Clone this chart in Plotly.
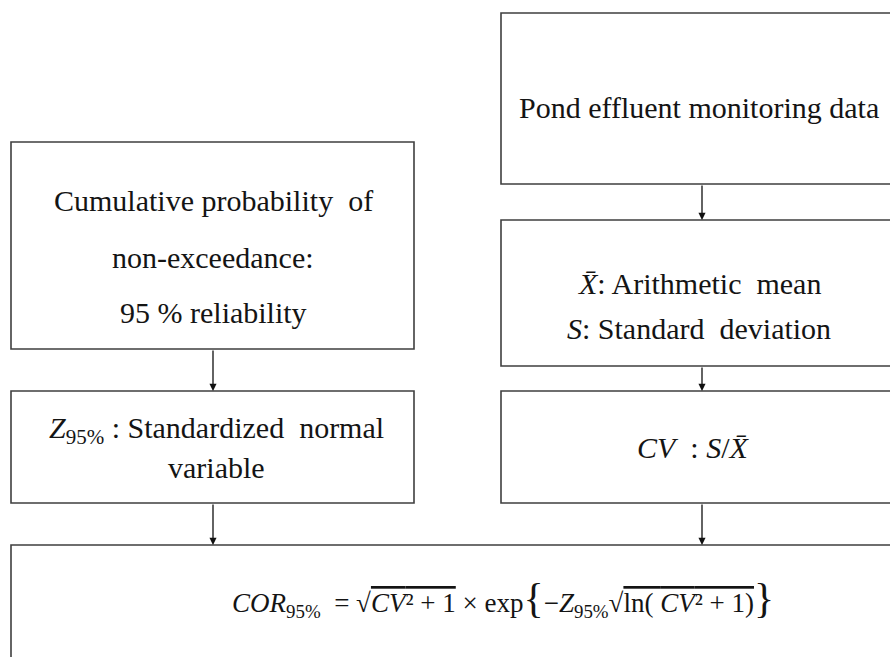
import plotly.graph_objects as go

# ---- content (node texts) ----
left_top_lines = ["Cumulative probability  of", "non-exceedance:", "95 % reliability"]
right_top_lines = ["Pond effluent monitoring data"]
right_mid_lines = ["<i>X̄</i>: Arithmetic  mean", "<i>S</i>: Standard  deviation"]
left_mid_lines = ["<i>Z</i><sub>95%</sub> : Standardized  normal", "variable"]
right_low_lines = ["<i>CV</i>  : <i>S</i>/<i>X̄</i>"]
formula_lines = [
    "<i>COR</i><sub>95%</sub>  = √<span style='text-decoration:overline'><i>CV</i>² + 1</span>"
    " × exp<span style='font-size:42px'>{</span>−<i>Z</i><sub>95%</sub>"
    "√<span style='text-decoration:overline'>ln( <i>CV</i>² + 1)</span>"
    "<span style='font-size:42px'>}</span>"
]

# ---- layout (coordinates in reference-picture pixels) ----
W, H = 890, 657
boxes = [
    # x0, y0, x1, y1, text-center-x, line y positions, lines, font size
    (11, 142, 414, 349, 213, [200, 257, 312], left_top_lines, 30),
    (501, 13, 905, 184, 699, [107], right_top_lines, 30),
    (501, 220, 905, 366, 699, [283, 328], right_mid_lines, 30),
    (11, 391, 414, 503, 216, [430, 467], left_mid_lines, 30),
    (501, 391, 905, 503, 693, [447], right_low_lines, 30),
    (11, 545, 905, 700, 503, [598], formula_lines, 27),
]
arrows = [
    (213, 349, 213, 391),
    (702, 184, 702, 220),
    (702, 366, 702, 391),
    (213, 503, 213, 545),
    (702, 503, 702, 545),
]

edge = "#3f3f3f"
txt = "#141414"
serif = "Liberation Serif"

fig = go.Figure()
shapes = []
annotations = []
for (x0, y0, x1, y1, cx, ys, lines, fs) in boxes:
    shapes.append(dict(type="rect", xref="x", yref="y", x0=x0, y0=y0, x1=x1, y1=y1,
                       line=dict(color=edge, width=1.6), fillcolor="white", layer="below"))
    for y, line in zip(ys, lines):
        annotations.append(dict(x=cx, y=y, xref="x", yref="y", text=line, showarrow=False,
                                xanchor="center", yanchor="middle",
                                font=dict(family=serif, size=fs, color=txt)))
for (x0, y0, x1, y1) in arrows:
    annotations.append(dict(x=x1, y=y1, ax=x0, ay=y0, xref="x", yref="y", axref="x", ayref="y",
                            text="", showarrow=True, arrowhead=2, arrowsize=1.1,
                            arrowwidth=1.3, arrowcolor="#111111", standoff=0))

fig.add_trace(go.Scatter(x=[0, W], y=[0, H], mode="markers", marker=dict(opacity=0),
                         hoverinfo="skip", showlegend=False))
fig.update_layout(
    width=W, height=H, margin=dict(l=0, r=0, t=0, b=0),
    paper_bgcolor="white", plot_bgcolor="white",
    xaxis=dict(range=[0, W], visible=False, fixedrange=True),
    yaxis=dict(range=[H, 0], visible=False, fixedrange=True),
    shapes=shapes, annotations=annotations, showlegend=False,
)
fig.write_html(
    "out.html",
    config={"displayModeBar": False, "staticPlot": True},
    post_script="document.body.style.margin='0';document.body.style.overflow='hidden';",
)
